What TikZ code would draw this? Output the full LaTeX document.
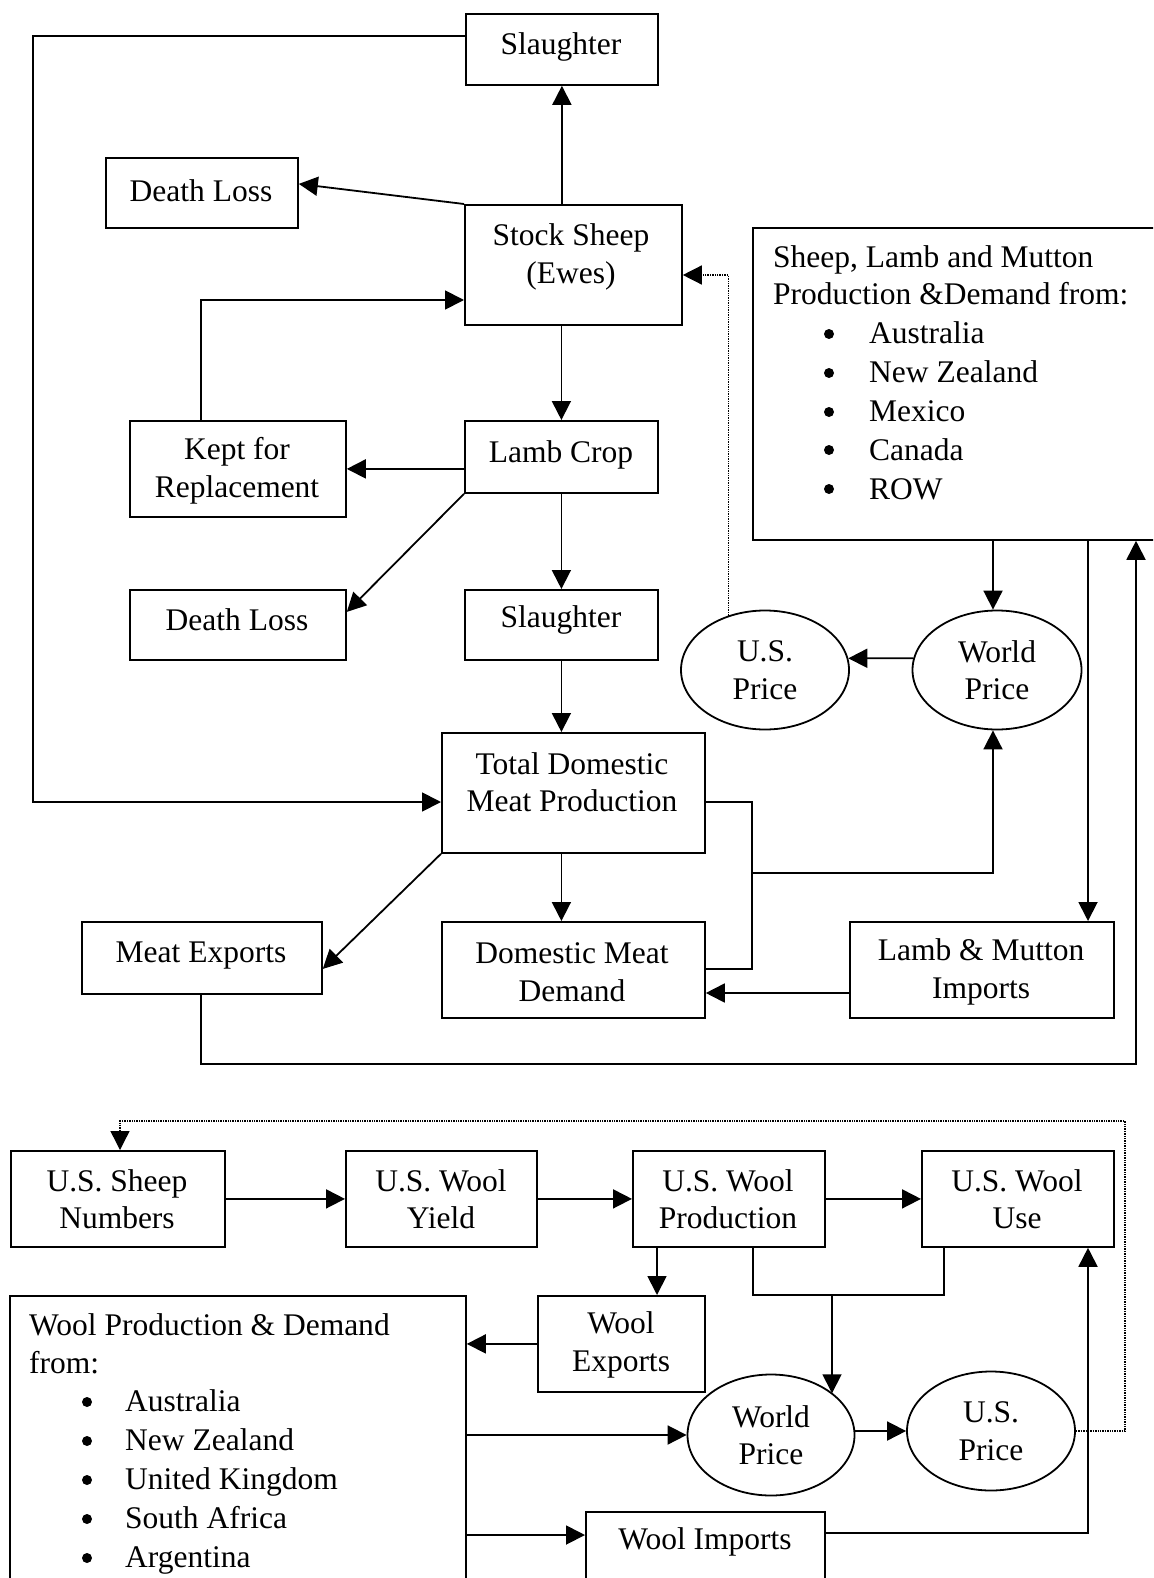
\documentclass[tikz,border=0pt]{standalone}
\usepackage{fontspec}
\setmainfont{Liberation Serif}
\usetikzlibrary{arrows.meta,shapes.geometric}
\begin{document}
\begin{tikzpicture}[x=1pt,y=-1pt,
  every node/.style={font=\fontsize{31.5pt}{37.5pt}\selectfont},
  box/.style={draw, line width=1.8pt, inner sep=0pt, anchor=north west},
  oval/.style={draw, ellipse, line width=1.8pt, inner sep=0pt, align=center},
  lbl/.style={inner sep=0pt, align=center, yshift=-4pt},
  lft/.style={inner sep=0pt, anchor=west, text height=22pt, text depth=7pt, yshift=-5pt},
  bul/.style={circle, fill, inner sep=0pt, minimum size=10pt},
  line/.style={line width=1.8pt},
  arr/.style={line width=1.8pt, -{Triangle[length=19pt,width=19pt]}},
  dotarr/.style={line width=1.4pt, densely dotted, -{Triangle[length=19pt,width=19pt]}}
]
\path[use as bounding box] (0,0) rectangle (1153,1578);
\clip (0,0) rectangle (1153,1578);

% ---------- upper part: boxes ----------
\node[box, minimum width=192pt, minimum height=71pt] (sl1) at (465,13) {};
\node[lbl] (sl1t) at (561,43) {Slaughter};
\node[box, minimum width=192pt, minimum height=70pt] (dl1) at (105,157) {};
\node[lbl] (dl1t) at (201,187) {Death Loss};
\node[box, minimum width=217pt, minimum height=120pt] (stock) at (464,204) {};
\node[lbl] (stockt) at (571,253) {Stock Sheep\\(Ewes)};
\node[box, minimum width=216pt, minimum height=96pt] (kept) at (129,420) {};
\node[lbl] (keptt) at (237,467) {Kept for\\Replacement};
\node[box, minimum width=193pt, minimum height=72pt] (lamb) at (464,420) {};
\node[lbl] (lambt) at (561,451) {Lamb Crop};
\node[box, minimum width=216pt, minimum height=70pt] (dl2) at (129,589) {};
\node[lbl] (dl2t) at (237,616) {Death Loss};
\node[box, minimum width=193pt, minimum height=70pt] (sl2) at (464,589) {};
\node[lbl] (sl2t) at (561,616) {Slaughter};
\node[box, minimum width=263pt, minimum height=120pt] (tdmp) at (441,732) {};
\node[lbl] (tdmpt) at (572,778) {Total Domestic\\Meat Production};
\node[box, minimum width=240pt, minimum height=72pt] (mexp) at (81,921) {};
\node[lbl] (mexpt) at (201,952) {Meat Exports};
\node[box, minimum width=263pt, minimum height=96pt] (dmd) at (441,921) {};
\node[lbl] (dmdt) at (572,968) {Domestic Meat\\Demand};
\node[box, minimum width=264pt, minimum height=96pt] (lmi) at (849,921) {};
\node[lbl] (lmit) at (981,968) {Lamb \& Mutton\\Imports};

\node[box, minimum width=420pt, minimum height=312pt] (slm) at (752,227) {};
\node[lft] (slm1) at (773,255) {Sheep, Lamb and Mutton};
\node[lft] (slm2) at (773,292) {Production \&Demand from:};
\node[bul] (sb1) at (829,334) {};
\node[bul] (sb2) at (829,373) {};
\node[bul] (sb3) at (829,412) {};
\node[bul] (sb4) at (829,450) {};
\node[bul] (sb5) at (829,489) {};
\node[lft] (si1) at (869,331) {Australia};
\node[lft] (si2) at (869,370) {New Zealand};
\node[lft] (si3) at (869,409) {Mexico};
\node[lft] (si4) at (869,448) {Canada};
\node[lft] (si5) at (869,487) {ROW};

\node[oval, minimum width=168pt, minimum height=119pt] (up1) at (765,670) {U.S.\\Price};
\node[oval, minimum width=169pt, minimum height=119pt] (wp1) at (997,670) {World\\Price};

% ---------- upper part: connectors ----------
\coordinate (c1) at (33,36);
\coordinate (c2) at (33,802);
\draw[arr] (sl1.west |- c1) -- (c1) -- (c2) -- (tdmp.west |- c2);
\draw[arr] (sl1.south |- stock.north) -- (sl1.south);
\draw[arr] (stock.north west) -- ([yshift=9pt]dl1.east);
\coordinate (k1) at (201,300);
\draw[arr] (k1 |- kept.north) -- (k1) -- (stock.west |- k1);
\draw[arr] (lamb.north |- stock.south) -- (lamb.north);
\draw[arr] (lamb.west |- kept.east) -- (kept.east);
\draw[arr] (lamb.south west) -- ([yshift=13pt]dl2.east);
\draw[arr] (lamb.south) -- (sl2.north);
\draw[arr] (sl2.south) -- (sl2.south |- tdmp.north);
\draw[arr] (tdmp.south west) -- ([yshift=-11pt]mexp.east);
\draw[arr] (sl2.south |- tdmp.south) -- (sl2.south |- dmd.north);
\coordinate (r1) at (752,802);
\coordinate (r2) at (752,969);
\coordinate (r3) at (752,873);
\coordinate (r4) at (993,873);
\draw[line] (tdmp.east |- r1) -- (r1) -- (r2) -- (dmd.east |- r2);
\draw[arr] (r3) -- (r4) -- (r4 |- wp1.south);
\draw[arr] (r4 |- slm.south) -- (r4 |- wp1.north);
\coordinate (r6) at (1088,540);
\draw[arr] (r6 |- slm.south) -- (r6 |- lmi.north);
\coordinate (r7) at (800,993);
\draw[arr] (lmi.west |- r7) -- (dmd.east |- r7);
\coordinate (r8) at (201,1064);
\coordinate (r9) at (1136,1064);
\draw[arr] (r8 |- mexp.south) -- (r8) -- (r9) -- (r9 |- slm.south);
\draw[arr] (wp1.172) -- (up1.8);
\coordinate (d1) at (729,275);
\draw[dotarr] (up1.124) -- (up1.124 |- d1) -- (stock.east |- d1);

% ---------- lower part: boxes ----------
\node[box, minimum width=214pt, minimum height=96pt] (usn) at (10,1150) {};
\node[lbl] (usnt) at (117,1195) {U.S. Sheep\\Numbers};
\node[box, minimum width=191pt, minimum height=96pt] (uwy) at (345,1150) {};
\node[lbl] (uwyt) at (441,1195) {U.S. Wool\\Yield};
\node[box, minimum width=192pt, minimum height=96pt] (uwp) at (632,1150) {};
\node[lbl] (uwpt) at (728,1195) {U.S. Wool\\Production};
\node[box, minimum width=192pt, minimum height=96pt] (uwu) at (921,1150) {};
\node[lbl] (uwut) at (1017,1195) {U.S. Wool\\Use};
\node[box, minimum width=167pt, minimum height=96pt] (wexp) at (537,1295) {};
\node[lbl] (wexpt) at (621,1341) {Wool\\Exports};
\node[box, minimum width=456pt, minimum height=320pt] (wpd) at (9,1295) {};
\node[lft] (wpd1) at (29,1323) {Wool Production \& Demand};
\node[lft] (wpd2) at (29,1361) {from:};
\node[bul] (wb1) at (87,1402) {};
\node[bul] (wb2) at (87,1441) {};
\node[bul] (wb3) at (87,1480) {};
\node[bul] (wb4) at (87,1519) {};
\node[bul] (wb5) at (87,1558) {};
\node[lft] (wi1) at (125,1399) {Australia};
\node[lft] (wi2) at (125,1438) {New Zealand};
\node[lft] (wi3) at (125,1477) {United Kingdom};
\node[lft] (wi4) at (125,1516) {South Africa};
\node[lft] (wi5) at (125,1555) {Argentina};
\node[box, minimum width=239pt, minimum height=100pt] (wimp) at (585,1511) {};
\node[lbl] (wimpt) at (705,1538) {Wool Imports};

\node[oval, minimum width=167pt, minimum height=121pt] (wp2) at (771,1435) {World\\Price};
\node[oval, minimum width=168pt, minimum height=119pt] (up2) at (991,1431) {U.S.\\Price};

% ---------- lower part: connectors ----------
\coordinate (e1) at (1125,1121);
\coordinate (e2) at (120,1121);
\draw[dotarr] (up2.east) -- (e1 |- up2.east) -- (e1) -- (e2) -- (e2 |- usn.north);
\draw[arr] (usn.east) -- (uwy.west);
\draw[arr] (uwy.east) -- (uwp.west);
\draw[arr] (uwp.east) -- (uwu.west);
\coordinate (f1) at (657,1250);
\draw[arr] (f1 |- uwp.south) -- (f1 |- wexp.north);
\coordinate (f2) at (753,1295);
\coordinate (f3) at (944,1295);
\coordinate (f4) at (832,1295);
\draw[line] (f2 |- uwp.south) -- (f2) -- (f3) -- (f3 |- uwu.south);
\draw[arr] (f4) -- (f4 |- wp2.34);
\draw[arr] (wexp.west) -- (wpd.east |- wexp.west);
\draw[arr] (wpd.east |- wp2.west) -- (wp2.west);
\draw[arr] (wp2.east |- up2.west) -- (up2.west);
\coordinate (g2) at (500,1535);
\draw[arr] (wpd.east |- g2) -- (wimp.west |- g2);
\coordinate (g3) at (1088,1533);
\draw[arr] (wimp.east |- g3) -- (g3) -- (g3 |- uwu.south);
\end{tikzpicture}
\end{document}
